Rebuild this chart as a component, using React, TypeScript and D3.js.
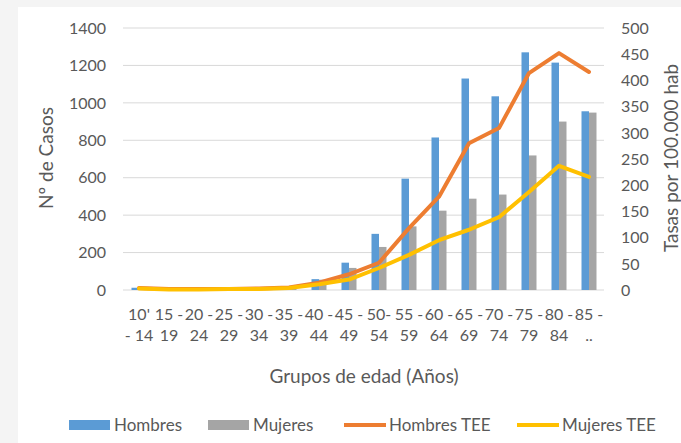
import React from "react";
import * as d3 from "d3";

const categories = ["10-14","15-19","20-24","25-29","30-34","35-39","40-44","45-49","50-54","55-59","60-64","65-69","70-74","75-79","80-84","85+"];
const labelTop = ["10'","15 -","20 -","25 -","30 -","35 -","40 -","45 -","50-","55 -","60 -","65 -","70 -","75 -","80 -","85 -"];
const labelBottom = ["- 14","19","24","29","34","39","44","49","54","59","64","69","74","79","84",".."];
const hombres = [12, 2, 2, 3, 4, 8, 58, 146, 300, 595, 815, 1130, 1035, 1270, 1215, 955];
const mujeres = [3, 1, 1, 2, 3, 6, 55, 118, 230, 340, 424, 488, 510, 719, 900, 948];
const hombresTEE = [4, 2, 2, 2, 3, 5, 14, 30, 52, 118, 178, 280, 309, 414, 452, 416];
const mujeresTEE = [3, 1, 1, 2, 2, 4, 11, 20, 42, 67, 95, 115, 139, 187, 237, 216];
const leftTicks = [0, 200, 400, 600, 800, 1000, 1200, 1400];
const rightTicks = [0, 50, 100, 150, 200, 250, 300, 350, 400, 450, 500];

const W = 681, H = 443;
const FONT = "Lato, 'Open Sans', sans-serif";
const TXT = "#595959";
const C = { blue: "#5B9BD5", gray: "#A5A5A5", orange: "#ED7D31", yellow: "#FFC000" };

export default function App() {
  const plotL = 124, plotR = 604, plotT = 28, plotB = 290;
  const x = d3.scaleBand<string>().domain(categories).range([plotL, plotR]);
  const inner = d3.scaleBand<string>().domain(["h", "m"]).range([x.bandwidth() / 2 - 7.5, x.bandwidth() / 2 + 7.5]);
  const yL = d3.scaleLinear().domain([0, 1400]).range([plotB, plotT]);
  const yR = d3.scaleLinear().domain([0, 500]).range([plotB, plotT]);
  const cx = (c: string) => (x(c) as number) + x.bandwidth() / 2;
  const line = d3.line<number>().x((_, i) => cx(categories[i])).y((d) => yR(d));

  const legend = [
    { label: "Hombres", color: C.blue, type: "rect", x: 69 },
    { label: "Mujeres", color: C.gray, type: "rect", x: 208 },
    { label: "Hombres TEE", color: C.orange, type: "line", x: 344 },
    { label: "Mujeres TEE", color: C.yellow, type: "line", x: 517 },
  ];

  return (
    <svg width={W} height={H} style={{ position: "absolute", left: 0, top: 0 }} fontFamily={FONT}>
      <rect x={0} y={0} width={W} height={H} fill="#f4f4f4" />
      <rect x={18} y={7} width={W - 18} height={H - 7} fill="#ffffff" />
      {leftTicks.map((t) => (
        <line key={t} x1={plotL - 1} x2={plotR} y1={yL(t)} y2={yL(t)} stroke="#d9d9d9" strokeWidth={1} />
      ))}
      {leftTicks.map((t) => (
        <text key={"l" + t} x={106} y={yL(t)} dy="0.36em" textAnchor="end" fontSize={16} fill={TXT}>{t}</text>
      ))}
      {rightTicks.map((t) => (
        <text key={"r" + t} x={621} y={yR(t)} dy="0.36em" textAnchor="start" fontSize={16} fill={TXT}>{t}</text>
      ))}
      {categories.map((c, i) => (
        <g key={c}>
          <rect x={(x(c) as number) + (inner("h") as number)} y={yL(hombres[i])} width={inner.bandwidth()} height={plotB - yL(hombres[i])} fill={C.blue} />
          <rect x={(x(c) as number) + (inner("m") as number)} y={yL(mujeres[i])} width={inner.bandwidth()} height={plotB - yL(mujeres[i])} fill={C.gray} />
        </g>
      ))}
      <path d={line(hombresTEE) || ""} fill="none" stroke={C.orange} strokeWidth={4} strokeLinejoin="round" strokeLinecap="round" />
      <path d={line(mujeresTEE) || ""} fill="none" stroke={C.yellow} strokeWidth={4} strokeLinejoin="round" strokeLinecap="round" />
      {categories.map((c, i) => (
        <g key={"xl" + c}>
          <text x={cx(c)} y={320} textAnchor="middle" fontSize={16} fill={TXT}>{labelTop[i]}</text>
          <text x={cx(c)} y={341} textAnchor="middle" fontSize={16} fill={TXT}>{labelBottom[i]}</text>
        </g>
      ))}
      <text x={364} y={383} textAnchor="middle" fontSize={19} fill={TXT}>Grupos de edad (Años)</text>
      <text transform={`translate(46,158) rotate(-90)`} dy="0.36em" textAnchor="middle" fontSize={19} fill={TXT}>Nº de Casos</text>
      <text transform={`translate(671,158) rotate(-90)`} dy="0.36em" textAnchor="middle" fontSize={19} fill={TXT}>Tasas por 100.000 hab</text>
      {legend.map((l) => (
        <g key={l.label}>
          {l.type === "rect" ? (
            <rect x={l.x} y={420} width={41} height={10} fill={l.color} />
          ) : (
            <line x1={l.x} x2={l.x + 42} y1={425} y2={425} stroke={l.color} strokeWidth={4} />
          )}
          <text x={l.x + 45} y={425} dy="0.36em" fontSize={17} fill={TXT}>{l.label}</text>
        </g>
      ))}
    </svg>
  );
}
